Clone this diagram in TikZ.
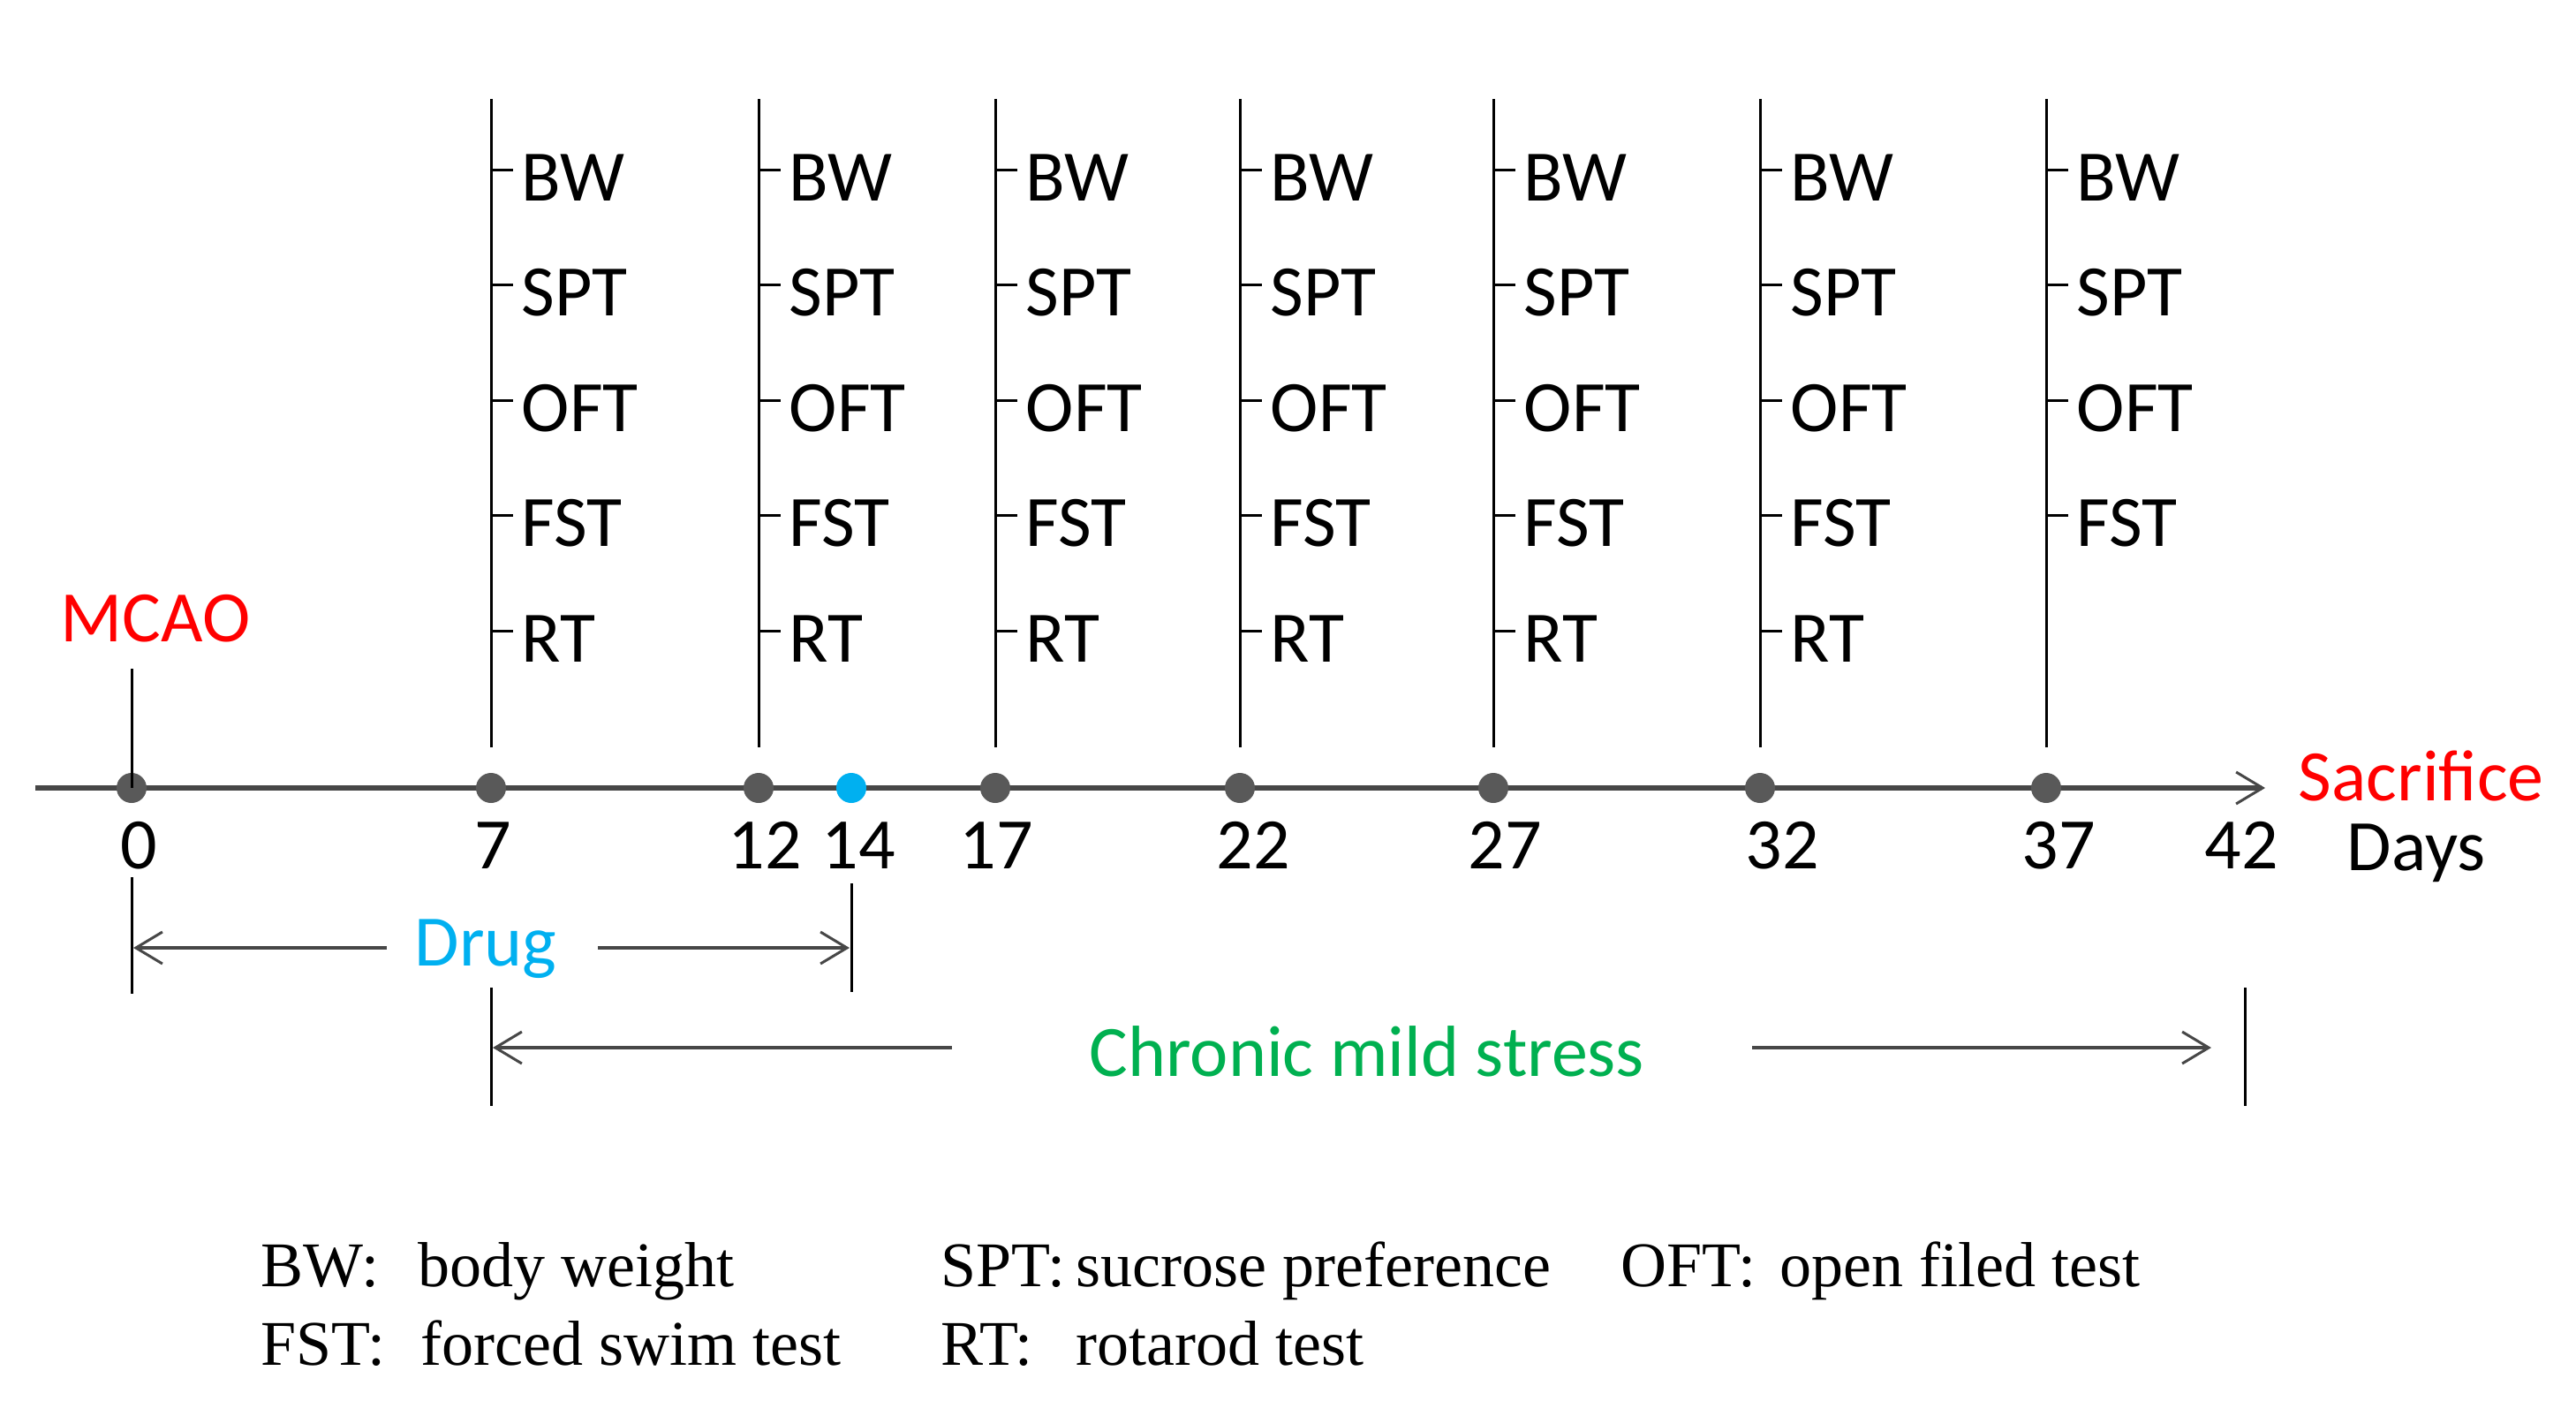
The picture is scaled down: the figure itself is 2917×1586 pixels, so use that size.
\documentclass[tikz,border=0pt]{standalone}
\usepackage{fontspec}
\newfontfamily\labfont{Carlito}
\newfontfamily\legfont{Liberation Serif}
\usetikzlibrary{arrows.meta}
\definecolor{axisgray}{HTML}{474747}
\definecolor{dotgray}{HTML}{595959}
\definecolor{drugblue}{HTML}{00B0F0}
\definecolor{cmsgreen}{HTML}{00B050}
\definecolor{mcaored}{HTML}{FF0000}
\begin{document}
\begin{tikzpicture}[x=0.25pt,y=-0.25pt,
  lab/.style={font=\labfont\fontsize{20.5}{24}\selectfont, inner sep=0pt},
  testlab/.style={lab, anchor=base west},
  daylab/.style={lab, anchor=base},
  dot/.style={circle, fill=dotgray, minimum size=8.5pt, inner sep=0pt},
  vline/.style={line width=0.75pt, black},
  axisline/.style={line width=1.3pt, axisgray},
  spanline/.style={line width=1pt, axisgray},
  barb/.style={-{Straight Barb[length=7.5pt,width=9pt,line width=0.75pt]}},
  legend/.style={font=\legfont\fontsize{18}{21}\selectfont, anchor=base west, inner sep=0pt}]
\useasboundingbox (0,0) rectangle (2917,1586);

% time axis
\coordinate (axstart) at (40,892);
\coordinate (axend) at (2565,892);
\draw[axisline, barb] (axstart) -- (axend);

% dots
\foreach \n/\x in {0/149,7/556,12/859,17/1127,22/1404,27/1691,32/1993,37/2317}
  \node[dot] (d\n) at (\x,892) {};
\node[dot, fill=drugblue] (d14) at (964,892) {};

% MCAO
\node[lab, text=mcaored, anchor=base] (mcao) at (176,726) {MCAO};
\coordinate (mcaoline) at (149,757);
\draw[vline] (mcaoline) -- (d0.center);

% test columns
\foreach \n/\x in {7/556,12/859,17/1127,22/1404,27/1691,32/1993,37/2317} {
  \coordinate (t\n) at (\x,112);
  \coordinate (b\n) at (\x,846);
  \draw[vline] (t\n) -- (b\n);
  \foreach \lbl [count=\i] in {BW,SPT,OFT,FST} {
    \pgfmathsetmacro\ty{192+(\i-1)*130.5}
    \coordinate (k\n-\i) at (\x+25,\ty);
    \draw[vline] (\x,\ty) -- (k\n-\i);
    \node[testlab] (L\n-\i) at (\x+34,\ty+35) {\lbl};
  }
}
\foreach \n/\x in {7/556,12/859,17/1127,22/1404,27/1691,32/1993} {
  \coordinate (k\n-5) at (\x+25,714);
  \draw[vline] (\x,714) -- (k\n-5);
  \node[testlab] (L\n-5) at (\x+34,749) {RT};
}

% day labels
\foreach \t/\x in {0/157,7/558,12/866,14/972,17/1128,22/1419,27/1704,32/2018,37/2331,42/2538}
  \node[daylab] (day\t) at (\x,983) {\t};
\node[lab, anchor=base west] (days) at (2657,985) {Days};
\node[lab, text=mcaored, anchor=base west] (sac) at (2602,906) {Sacrifice};

% Drug span
\coordinate (drugLt) at (149,993);
\coordinate (drugLb) at (149,1125);
\coordinate (drugRt) at (964,1000);
\coordinate (drugRb) at (964,1123);
\draw[vline] (drugLt) -- (drugLb);
\draw[vline] (drugRt) -- (drugRb);
\node[lab, text=drugblue, anchor=base] (drug) at (550,1093) {Drug};
\coordinate (drugA) at (151,1073);
\coordinate (drugB) at (962,1073);
\coordinate (drugGL) at (438,1073);
\coordinate (drugGR) at (677,1073);
\draw[spanline, barb] (drugGL) -- (drugA);
\draw[spanline, barb] (drugGR) -- (drugB);

% Chronic mild stress span
\coordinate (cmsLt) at (556,1118);
\coordinate (cmsLb) at (556,1252);
\coordinate (cmsRt) at (2542,1118);
\coordinate (cmsRb) at (2542,1252);
\draw[vline] (cmsLt) -- (cmsLb);
\draw[vline] (cmsRt) -- (cmsRb);
\node[lab, text=cmsgreen, anchor=base] (cms) at (1548,1218) {Chronic mild stress};
\coordinate (cmsA) at (558,1186);
\coordinate (cmsB) at (2504,1186);
\coordinate (cmsGL) at (1078,1186);
\coordinate (cmsGR) at (1984,1186);
\draw[spanline, barb] (cmsGL) -- (cmsA);
\draw[spanline, barb] (cmsGR) -- (cmsB);

% legend
\node[legend] (lg1a) at (295,1456) {BW:};
\node[legend] (lg1b) at (473,1456) {body weight};
\node[legend] (lg2a) at (1065,1456) {SPT:};
\node[legend] (lg2b) at (1218,1456) {sucrose preference};
\node[legend] (lg3a) at (1835,1456) {OFT:};
\node[legend] (lg3b) at (2015,1456) {open filed test};
\node[legend] (lg4a) at (295,1545) {FST:};
\node[legend] (lg4b) at (476,1545) {forced swim test};
\node[legend] (lg5a) at (1065,1545) {RT:};
\node[legend] (lg5b) at (1218,1545) {rotarod test};
\end{tikzpicture}
\end{document}
